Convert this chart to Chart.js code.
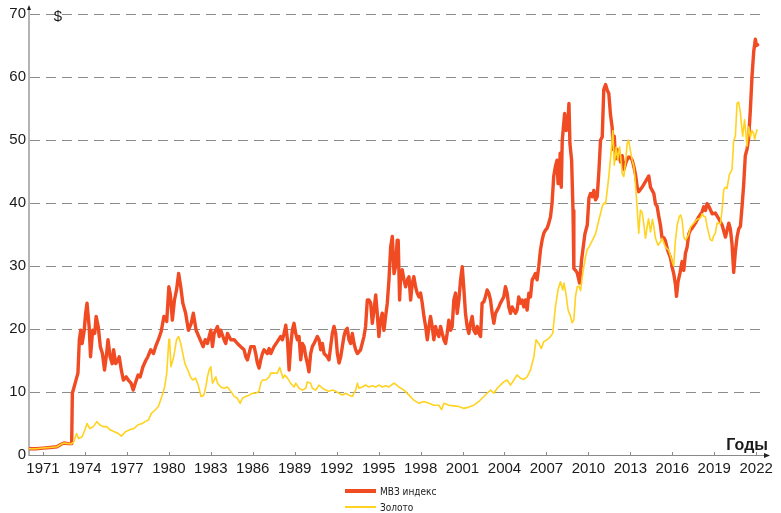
<!DOCTYPE html>
<html>
<head>
<meta charset="utf-8">
<script src="https://cdn.jsdelivr.net/npm/chart.js@4"></script>
<style>
  html, body { margin: 0; padding: 0; background: #fff; }
  #wrap { position: relative; width: 781px; height: 513px; }
</style>
</head>
<body>
<div id="wrap"><canvas id="chart" width="781" height="513"></canvas></div>
<script>
// tick labels on the year axis
var yearTicks = [1971, 1974, 1977, 1980, 1983, 1986, 1989, 1992, 1995, 1998, 2001, 2004, 2007, 2010, 2013, 2016, 2019, 2022];

// MB3 index
var mb3Years = [
  1970.0, 1970.5, 1971.0, 1971.5, 1972.0, 1972.3, 1972.5, 1972.8, 1973.05, 1973.1, 1973.2, 1973.4, 1973.5, 1973.6, 1973.7, 1973.8, 1973.95,
  1974.05, 1974.15, 1974.3, 1974.4, 1974.55, 1974.7, 1974.8, 1974.95, 1975.1, 1975.25, 1975.4, 1975.55, 1975.65, 1975.8, 1975.95,
  1976.05, 1976.2, 1976.35, 1976.45, 1976.6, 1976.75, 1976.95, 1977.1, 1977.3, 1977.45, 1977.6, 1977.8, 1977.95, 1978.15, 1978.35,
  1978.5, 1978.7, 1978.9, 1979.05, 1979.25, 1979.45, 1979.65, 1979.85, 1980.0, 1980.1, 1980.25, 1980.4, 1980.55, 1980.7, 1980.85,
  1981.0, 1981.2, 1981.4, 1981.6, 1981.75, 1981.95, 1982.2, 1982.45, 1982.6, 1982.76, 1983.0, 1983.12, 1983.24, 1983.48, 1983.6,
  1983.71, 1983.95, 1984.07, 1984.19, 1984.43, 1984.67, 1984.9, 1985.14, 1985.38, 1985.5, 1985.62, 1985.86, 1986.1, 1986.21, 1986.33,
  1986.45, 1986.57, 1986.69, 1986.81, 1987.05, 1987.17, 1987.29, 1987.52, 1987.76, 1988.0, 1988.12, 1988.24, 1988.36, 1988.48, 1988.6,
  1988.71, 1988.83, 1988.95, 1989.07, 1989.19, 1989.31, 1989.43, 1989.55, 1989.67, 1989.79, 1989.9, 1990.02, 1990.14, 1990.26, 1990.38,
  1990.62, 1990.74, 1990.86, 1990.98, 1991.1, 1991.33, 1991.45, 1991.57, 1991.69, 1991.81, 1991.93, 1992.05, 1992.17, 1992.29, 1992.52,
  1992.64, 1992.76, 1992.88, 1993.0, 1993.12, 1993.24, 1993.36, 1993.48, 1993.71, 1993.95, 1994.07, 1994.19, 1994.31, 1994.43, 1994.55,
  1994.67, 1994.79, 1994.9, 1995.02, 1995.14, 1995.26, 1995.38, 1995.5, 1995.62, 1995.74, 1995.86, 1995.98, 1996.1, 1996.21, 1996.33,
  1996.4, 1996.5, 1996.57, 1996.69, 1996.81, 1996.93, 1997.05, 1997.17, 1997.29, 1997.4, 1997.52, 1997.64, 1997.76, 1997.88, 1998.0,
  1998.12, 1998.24, 1998.36, 1998.48, 1998.6, 1998.71, 1998.83, 1998.95, 1999.07, 1999.19, 1999.31, 1999.43, 1999.55, 1999.67, 1999.79,
  1999.9, 2000.02, 2000.14, 2000.26, 2000.38, 2000.5, 2000.62, 2000.74, 2000.86, 2000.98, 2001.1, 2001.21, 2001.33, 2001.45, 2001.57,
  2001.69, 2001.81, 2001.93, 2002.05, 2002.17, 2002.29, 2002.4, 2002.52, 2002.64, 2002.76, 2002.88, 2003.0, 2003.12, 2003.24, 2003.36,
  2003.48, 2003.6, 2003.71, 2003.83, 2003.95, 2004.07, 2004.19, 2004.31, 2004.43, 2004.55, 2004.67, 2004.79, 2004.9, 2005.02, 2005.14,
  2005.26, 2005.38, 2005.5, 2005.62, 2005.74, 2005.86, 2005.98, 2006.1, 2006.21, 2006.33, 2006.45, 2006.57, 2006.69, 2006.81, 2006.93,
  2007.05, 2007.17, 2007.29, 2007.4, 2007.52, 2007.64, 2007.76, 2007.83, 2007.92, 2007.98, 2008.06, 2008.13, 2008.3, 2008.42, 2008.54,
  2008.61, 2008.68, 2008.8, 2008.9, 2008.96, 2009.08, 2009.2, 2009.37, 2009.51, 2009.63, 2009.75, 2009.92, 2010.04, 2010.15, 2010.27,
  2010.39, 2010.51, 2010.63, 2010.75, 2010.87, 2010.99, 2011.1, 2011.23, 2011.35, 2011.46, 2011.58, 2011.7, 2011.77, 2011.85, 2011.94,
  2012.06, 2012.18, 2012.3, 2012.42, 2012.54, 2012.65, 2012.77, 2012.89, 2013.01, 2013.13, 2013.25, 2013.37, 2013.49, 2013.6, 2013.84,
  2014.08, 2014.32, 2014.44, 2014.56, 2014.68, 2014.8, 2014.91, 2015.04, 2015.15, 2015.27, 2015.39, 2015.51, 2015.63, 2015.75, 2015.87,
  2015.99, 2016.1, 2016.23, 2016.3, 2016.41, 2016.55, 2016.7, 2016.82, 2016.94, 2017.06, 2017.18, 2017.3, 2017.42, 2017.65, 2017.89,
  2018.13, 2018.25, 2018.37, 2018.49, 2018.61, 2018.85, 2019.08, 2019.32, 2019.56, 2019.8, 2019.92, 2020.04, 2020.15, 2020.27, 2020.39,
  2020.51, 2020.63, 2020.75, 2020.87, 2020.99, 2021.1, 2021.22, 2021.35, 2021.46, 2021.58, 2021.7, 2021.82, 2021.94, 2022.02, 2022.1
];
var mb3Values = [
  1.0, 1.0, 1.1, 1.2, 1.3, 1.7, 1.9, 1.8, 1.8, 9.8, 10.6, 12.2, 13.0, 18.3, 19.8, 17.7, 19.8,
  22.5, 24.1, 20.4, 15.6, 19.8, 19.3, 22.0, 20.4, 17.2, 16.1, 13.5, 16.1, 18.3, 15.6, 14.5,
  16.7, 14.5, 15.0, 15.6, 13.5, 11.9, 12.4, 11.9, 11.4, 10.3, 11.4, 12.7, 12.4, 14.0, 15.0,
  15.6, 16.7, 16.1, 17.2, 18.3, 19.6, 22.0, 21.2, 26.7, 25.6, 21.4, 24.6, 26.2, 28.8, 26.7,
  24.1, 22.5, 19.8, 20.9, 22.5, 19.8, 18.5, 17.2, 18.3, 17.7, 19.8, 17.2, 19.3, 20.4, 18.8,
  19.8, 18.3, 17.7, 19.3, 18.3, 18.3, 17.7, 17.2, 16.7, 15.6, 15.1, 17.2, 17.2, 16.1, 14.6,
  13.8, 15.1, 16.1, 16.7, 16.1, 16.9, 16.1, 17.2, 18.0, 18.8, 18.3, 19.3, 20.6, 18.3, 13.5,
  17.2, 19.8, 20.9, 19.3, 18.3, 18.8, 15.1, 17.7, 17.2, 15.6, 14.6, 13.2, 16.1, 17.2, 17.7,
  18.8, 18.3, 16.7, 17.7, 16.1, 15.6, 15.1, 17.2, 19.3, 20.4, 19.3, 16.1, 14.6, 15.6, 18.8,
  19.8, 20.1, 18.3, 17.7, 19.3, 17.7, 16.7, 16.1, 16.7, 18.8, 20.4, 24.6, 24.6, 24.1, 20.9,
  23.0, 25.4, 22.5, 18.8, 21.4, 22.5, 19.8, 22.0, 24.1, 27.8, 33.0, 34.7, 28.8, 29.9, 34.1,
  34.1, 24.6, 28.3, 29.4, 27.8, 26.7, 27.8, 28.3, 24.6, 27.2, 28.3, 26.7, 25.7, 25.1, 25.7,
  24.1, 22.0, 20.4, 18.3, 20.4, 22.0, 20.4, 18.3, 20.4, 19.3, 18.8, 20.4, 19.3, 18.3, 17.7,
  19.3, 21.4, 19.8, 20.4, 24.6, 25.7, 22.5, 24.6, 27.8, 29.9, 26.2, 22.5, 20.4, 19.3, 20.9,
  22.0, 19.8, 19.3, 20.4, 19.3, 18.8, 24.1, 24.3, 25.1, 26.2, 25.7, 24.6, 22.5, 20.9, 22.5,
  23.0, 23.5, 24.1, 24.6, 25.1, 26.7, 25.7, 23.5, 22.5, 23.5, 23.0, 22.5, 23.0, 25.1, 24.1,
  24.6, 23.5, 24.6, 23.0, 25.7, 25.1, 27.8, 28.3, 28.8, 27.8, 29.9, 32.5, 34.1, 35.2, 35.7,
  36.0, 36.8, 37.8, 39.9, 44.2, 45.8, 46.8, 43.1, 43.1, 47.9, 42.5, 49.9, 54.2, 51.5, 53.1,
  55.8, 49.4, 46.8, 38.8, 29.6, 29.3, 28.9, 27.3, 30.9, 33.0, 35.1, 36.5, 40.8, 41.5, 41.0,
  42.0, 40.5, 41.0, 45.0, 50.0, 50.5, 58.0, 58.8, 57.9, 57.4, 54.0, 52.0, 48.5, 50.6, 47.0,
  48.5, 48.0, 46.5, 47.5, 45.3, 46.2, 46.9, 47.3, 47.2, 46.8, 45.8, 44.5, 42.5, 41.8, 42.5,
  43.4, 44.3, 42.5, 42.0, 41.5, 39.8, 39.5, 37.8, 36.5, 34.4, 34.5, 34.0, 32.8, 32.0, 31.3,
  29.8, 28.8, 27.0, 25.2, 27.5, 28.9, 30.7, 29.3, 32.0, 33.0, 35.1, 35.7, 36.0, 36.8, 37.8,
  38.6, 39.4, 38.8, 39.9, 39.5, 38.3, 38.4, 37.5, 36.5, 34.6, 35.7, 36.8, 35.9, 33.5, 29.0,
  32.3, 34.6, 35.9, 36.3, 39.5, 42.8, 47.5, 48.6, 50.3, 54.7, 60.1, 64.0, 66.0, 65.0, 65.1
];

// gold
var goldYears = [
  1970.0, 1970.5, 1971.0, 1971.5, 1972.0, 1972.3, 1972.5, 1972.8, 1973.05, 1973.2, 1973.4, 1973.55, 1973.8, 1974.0, 1974.15, 1974.35,
  1974.6, 1974.85, 1975.05, 1975.3, 1975.55, 1975.8, 1976.1, 1976.4, 1976.6, 1976.9, 1977.2, 1977.5, 1977.8, 1978.1, 1978.3, 1978.55,
  1978.75, 1979.0, 1979.25, 1979.5, 1979.7, 1979.85, 1980.0, 1980.05, 1980.15, 1980.35, 1980.55, 1980.7, 1980.85, 1981.0, 1981.15,
  1981.35, 1981.55, 1981.7, 1981.9, 1982.1, 1982.3, 1982.5, 1982.64, 1982.76, 1982.88, 1983.0, 1983.12, 1983.24, 1983.36, 1983.48,
  1983.71, 1983.95, 1984.19, 1984.43, 1984.67, 1984.9, 1985.1, 1985.26, 1985.5, 1985.74, 1985.98, 1986.21, 1986.45, 1986.57, 1986.69,
  1986.93, 1987.17, 1987.29, 1987.52, 1987.76, 1987.93, 1988.05, 1988.17, 1988.29, 1988.48, 1988.71, 1988.95, 1989.07, 1989.31, 1989.55,
  1989.79, 1989.9, 1990.14, 1990.26, 1990.5, 1990.74, 1990.98, 1991.21, 1991.45, 1991.69, 1991.93, 1992.17, 1992.4, 1992.64, 1992.88,
  1993.12, 1993.36, 1993.48, 1993.6, 1993.83, 1994.07, 1994.31, 1994.55, 1994.79, 1995.02, 1995.26, 1995.5, 1995.74, 1996.1, 1996.45,
  1996.81, 1997.17, 1997.52, 1997.88, 1998.24, 1998.6, 1998.95, 1999.31, 1999.5, 1999.67, 2000.02, 2000.38, 2000.74, 2001.1, 2001.45,
  2001.81, 2002.17, 2002.4, 2002.76, 2003.0, 2003.24, 2003.48, 2003.71, 2003.95, 2004.19, 2004.43, 2004.67, 2004.9, 2005.14, 2005.38,
  2005.62, 2005.86, 2006.1, 2006.26, 2006.45, 2006.64, 2006.81, 2007.05, 2007.29, 2007.45, 2007.64, 2007.83, 2008.0, 2008.17, 2008.25,
  2008.4, 2008.55, 2008.72, 2008.84, 2008.96, 2009.08, 2009.2, 2009.32, 2009.44, 2009.6, 2009.8, 2009.91, 2010.04, 2010.27, 2010.51,
  2010.75, 2010.99, 2011.1, 2011.23, 2011.35, 2011.46, 2011.58, 2011.75, 2011.85, 2011.99, 2012.1, 2012.23, 2012.3, 2012.42, 2012.53,
  2012.65, 2012.77, 2012.87, 2013.01, 2013.13, 2013.25, 2013.35, 2013.45, 2013.6, 2013.72, 2013.84, 2013.96, 2014.08, 2014.2, 2014.3,
  2014.44, 2014.58, 2014.68, 2014.8, 2014.98, 2015.15, 2015.27, 2015.51, 2015.75, 2015.99, 2016.1, 2016.22, 2016.35, 2016.51, 2016.6,
  2016.7, 2016.82, 2016.94, 2017.06, 2017.18, 2017.3, 2017.53, 2017.77, 2018.01, 2018.13, 2018.25, 2018.37, 2018.49, 2018.61, 2018.72,
  2018.85, 2018.96, 2019.08, 2019.2, 2019.44, 2019.56, 2019.68, 2019.8, 2019.91, 2020.08, 2020.27, 2020.39, 2020.51, 2020.63, 2020.75,
  2020.87, 2020.94, 2021.03, 2021.17, 2021.34, 2021.46, 2021.58, 2021.7, 2021.82, 2021.89, 2022.06
];
var goldValues = [
  1.0, 1.0, 1.1, 1.2, 1.3, 1.7, 1.9, 1.8, 1.8, 2.1, 3.4, 2.6, 2.9, 4.0, 5.0, 4.2,
  4.5, 5.3, 4.8, 4.5, 4.5, 4.0, 3.7, 3.4, 3.0, 3.7, 4.0, 4.2, 4.8, 5.0, 5.3, 5.6,
  6.6, 7.1, 7.7, 9.3, 10.8, 13.0, 18.3, 18.4, 14.0, 15.6, 18.3, 18.8, 17.7, 16.1, 14.5,
  13.5, 12.4, 11.9, 12.2, 11.1, 9.3, 9.5, 10.8, 12.4, 13.5, 14.0, 11.4, 11.9, 12.4, 11.4,
  10.8, 10.6, 10.8, 10.1, 9.3, 9.0, 8.2, 9.0, 9.3, 9.5, 9.8, 9.8, 10.1, 11.4, 11.9,
  11.9, 12.4, 13.0, 13.0, 13.0, 13.9, 13.0, 12.2, 12.7, 12.2, 11.4, 10.8, 11.4, 10.6, 10.3,
  10.6, 11.6, 11.4, 10.6, 10.3, 11.1, 10.6, 10.3, 10.1, 10.3, 10.1, 9.8, 9.5, 9.8, 9.5,
  9.3, 10.3, 11.4, 10.6, 10.8, 11.1, 10.8, 11.0, 10.8, 11.1, 10.8, 11.0, 10.8, 11.4, 10.8,
  10.3, 9.5, 8.7, 8.2, 8.5, 8.2, 7.9, 7.9, 7.2, 8.2, 7.9, 7.8, 7.7, 7.4, 7.6,
  7.9, 8.5, 9.0, 9.8, 10.3, 9.8, 10.6, 11.1, 11.6, 11.9, 11.1, 11.9, 12.7, 12.2, 12.0,
  12.4, 13.5, 15.6, 18.3, 17.7, 16.9, 18.0, 18.3, 18.8, 19.3, 23.5, 26.2, 27.5, 26.2, 27.3,
  25.5, 23.0, 22.0, 21.0, 21.4, 25.2, 26.7, 26.8, 26.1, 28.9, 31.5, 32.6, 33.0, 34.0, 35.1,
  37.3, 39.4, 40.0, 39.9, 42.0, 44.2, 47.0, 51.5, 46.0, 48.9, 46.8, 48.9, 47.5, 44.7, 44.2,
  46.3, 49.4, 50.0, 48.2, 46.8, 45.8, 43.5, 40.4, 35.2, 38.9, 38.5, 36.7, 34.4, 36.2, 37.5,
  35.4, 37.4, 36.2, 34.4, 33.3, 33.8, 34.4, 33.0, 32.5, 30.7, 30.0, 34.0, 36.5, 37.9, 38.1,
  37.3, 34.6, 34.1, 34.5, 35.1, 36.2, 36.8, 37.4, 37.6, 38.3, 37.9, 37.8, 36.3, 35.1, 34.2,
  34.0, 34.8, 35.2, 36.8, 36.7, 38.9, 42.1, 42.5, 42.3, 44.5, 45.3, 49.9, 50.6, 55.8, 56.0,
  54.3, 52.6, 50.6, 53.2, 49.0, 52.1, 50.5, 51.5, 51.0, 50.1, 51.7
];

var seriesLabels = ["МВЗ индекс", "Золото"];
var seriesColors = ["#f04b22", "#ffd31f"];

function toPoints(xs, ys) {
  var pts = [];
  for (var i = 0; i < xs.length; i++) {
    pts.push({ x: xs[i], y: ys[i] });
  }
  return pts;
}

// axis arrows, ticks above the x axis, "$", "Годы" and the stacked legend
var decorPlugin = {
  id: "decor",
  afterDraw: function (chart) {
    var ctx = chart.ctx;
    var area = chart.chartArea;
    var xs = chart.scales.x;
    ctx.save();

    // y axis extension + arrow
    ctx.strokeStyle = "#b4b4b4";
    ctx.lineWidth = 2;
    ctx.beginPath();
    ctx.moveTo(area.left, area.top);
    ctx.lineTo(area.left, 9);
    ctx.stroke();
    ctx.fillStyle = "#222";
    ctx.beginPath();
    ctx.moveTo(area.left, 5);
    ctx.lineTo(area.left - 2, 10);
    ctx.lineTo(area.left + 2, 10);
    ctx.closePath();
    ctx.fill();

    // x axis line + arrow
    ctx.strokeStyle = "#8a8a8a";
    ctx.lineWidth = 1;
    ctx.beginPath();
    ctx.moveTo(area.left, area.bottom + 0.5);
    ctx.lineTo(765, area.bottom + 0.5);
    ctx.stroke();
    ctx.fillStyle = "#222";
    ctx.beginPath();
    ctx.moveTo(770, area.bottom + 0.5);
    ctx.lineTo(764, area.bottom - 2);
    ctx.lineTo(764, area.bottom + 3);
    ctx.closePath();
    ctx.fill();

    // small ticks standing on the x axis
    ctx.strokeStyle = "#8a8a8a";
    yearTicks.forEach(function (yr) {
      var px = Math.round(xs.getPixelForValue(yr)) + 0.5;
      ctx.beginPath();
      ctx.moveTo(px, area.bottom - 3);
      ctx.lineTo(px, area.bottom + 1);
      ctx.stroke();
    });

    // unit and axis titles
    ctx.fillStyle = "#1a1a1a";
    ctx.font = "15px 'Liberation Sans', Arial, sans-serif";
    ctx.textAlign = "center";
    ctx.textBaseline = "alphabetic";
    ctx.fillText("$", 58, 21);
    ctx.font = "bold 16px 'Liberation Sans', Arial, sans-serif";
    ctx.textAlign = "right";
    ctx.fillText("Годы", 768, 450);

    // legend, one entry per row
    var rows = [491, 507];
    var widths = [4, 2];
    ctx.font = "10px 'DejaVu Sans Condensed', 'Liberation Sans Narrow', sans-serif";
    ctx.textAlign = "left";
    ctx.textBaseline = "middle";
    chart.data.datasets.forEach(function (ds, i) {
      ctx.strokeStyle = ds.borderColor;
      ctx.lineWidth = widths[i];
      ctx.beginPath();
      ctx.moveTo(345, rows[i]);
      ctx.lineTo(376, rows[i]);
      ctx.stroke();
      ctx.fillStyle = "#1a1a1a";
      ctx.fillText(ds.label, 380, rows[i] + 1);
    });

    ctx.restore();
  }
};

new Chart(document.getElementById("chart"), {
  type: "line",
  data: {
    datasets: [
      {
        label: seriesLabels[0],
        data: toPoints(mb3Years, mb3Values),
        borderColor: seriesColors[0],
        borderWidth: 3.4,
        borderJoinStyle: "round",
        borderCapStyle: "round",
        pointRadius: 0,
        tension: 0,
        order: 1
      },
      {
        label: seriesLabels[1],
        data: toPoints(goldYears, goldValues),
        borderColor: seriesColors[1],
        borderWidth: 1.6,
        borderJoinStyle: "round",
        pointRadius: 0,
        tension: 0,
        order: 0
      }
    ]
  },
  options: {
    responsive: false,
    animation: false,
    events: [],
    layout: { padding: { left: 0, right: 15, top: 14, bottom: 0 } },
    plugins: {
      legend: { display: false },
      tooltip: { enabled: false }
    },
    scales: {
      x: {
        type: "linear",
        min: 1970,
        max: 2022.7,
        afterBuildTicks: function (scale) {
          scale.ticks = yearTicks.map(function (v) { return { value: v }; });
        },
        afterFit: function (scale) { scale.height = 58; },
        grid: { display: false, drawTicks: false },
        border: { display: false },
        ticks: {
          autoSkip: false,
          maxRotation: 0,
          padding: 5,
          color: "#1a1a1a",
          font: { family: "'Liberation Sans', Arial, sans-serif", size: 15 },
          callback: function (v) { return String(v); }
        }
      },
      y: {
        min: 0,
        max: 70,
        afterFit: function (scale) { scale.width = 29; },
        ticks: {
          stepSize: 10,
          padding: 3,
          color: "#1a1a1a",
          font: { family: "'Liberation Sans', Arial, sans-serif", size: 15 }
        },
        grid: {
          drawTicks: false,
          color: function (c) { return c.tick && c.tick.value === 0 ? "rgba(0,0,0,0)" : "#8c8c8c"; },
          lineWidth: 1
        },
        border: { display: true, color: "#b4b4b4", width: 2, dash: [10, 6] }
      }
    }
  },
  plugins: [decorPlugin]
});
</script>
</body>
</html>
